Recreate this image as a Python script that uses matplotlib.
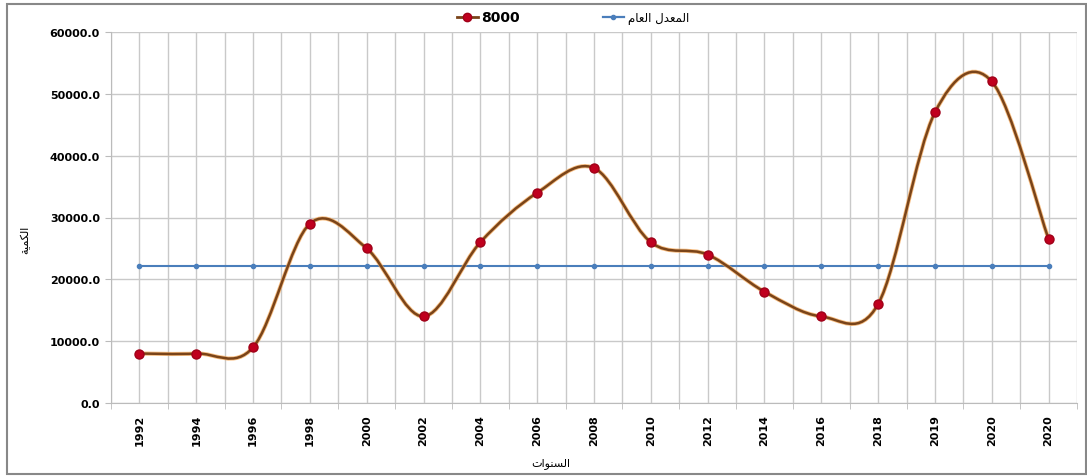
import matplotlib
matplotlib.use('Agg')
from matplotlib import pyplot as plt
from matplotlib.path import Path
from matplotlib.patches import PathPatch, Rectangle
from matplotlib.lines import Line2D
import numpy as np

years = ['1992', '1994', '1996', '1998', '2000', '2002', '2004', '2006', '2008',
         '2010', '2012', '2014', '2016', '2018', '2019', '2020', '2020']
values = [8000, 8000, 9000, 29000, 25000, 14000, 26000, 34000, 38000,
          26000, 24000, 18000, 14000, 16000, 47000, 52000, 26500]
average = [22200] * len(years)

# arabic text in visual order (presentation forms, matplotlib does no shaping)
lbl_avg = '\uFEE1\uFE8E\uFECC\uFEDF\uFE8D \uFEDD\uFEAA\uFECC\uFEE4\uFEDF\uFE8D'  # المعدل العام
lbl_x = '\uFE95\uFE8D\uFEEE\uFEE8\uFEB4\uFEDF\uFE8D'  # السنوات
lbl_y = '\uFE94\uFEF4\uFEE4\uFEDC\uFEDF\uFE8D'  # الكمية
lbl_series = '8000'

plt.rcParams['font.family'] = ['DejaVu Sans']

W, H = 1087, 477
fig = plt.figure(figsize=(W/100, H/100), dpi=100, facecolor='white')
ax = fig.add_axes([111/W, 1-404/H, (1077-111)/W, (404-33)/H])

x = np.arange(len(years))
y = np.array(values, dtype=float)

# excel-like smoothed line: bezier segments with catmull-rom control points
verts = [(x[0], y[0])]
codes = [Path.MOVETO]
n = len(x)
for i in range(n - 1):
    p0 = np.array([x[max(i-1, 0)], y[max(i-1, 0)]])
    p1 = np.array([x[i], y[i]])
    p2 = np.array([x[i+1], y[i+1]])
    p3 = np.array([x[min(i+2, n-1)], y[min(i+2, n-1)]])
    c1 = p1 + (p2 - p0) / 6.0
    c2 = p2 - (p3 - p1) / 6.0
    verts += [tuple(c1), tuple(c2), tuple(p2)]
    codes += [Path.CURVE4] * 3
path = Path(verts, codes)

ax.add_patch(PathPatch(path, facecolor='none', edgecolor='#F4A24C', lw=3.0, zorder=3, alpha=0.7))
ax.add_patch(PathPatch(path, facecolor='none', edgecolor='#7A4419', lw=1.8, zorder=4))
ax.plot(x, y, linestyle='', marker='o', markersize=6.5, markerfacecolor='#C0001E',
        markeredgecolor='#A00018', zorder=5)

ax.plot(x, average, color='#4A7EBB', lw=1.5, marker='o', markersize=3,
        markerfacecolor='#4A7EBB', markeredgecolor='#4A7EBB', zorder=2)

ax.set_xlim(-0.5, n - 0.5)
ax.set_ylim(0, 60000)
ax.set_yticks(np.arange(0, 60001, 10000))
ax.set_yticklabels(['%.1f' % v for v in np.arange(0, 60001, 10000)],
                   fontsize=8, fontweight='bold')
ax.set_xticks(x)
ax.set_xticklabels(years, rotation=90, fontsize=8, fontweight='bold')
ax.set_xticks(np.arange(-0.5, n, 1.0), minor=True)

ax.grid(which='major', axis='both', color='#C9C9C9', lw=1.0, zorder=0)
ax.grid(which='minor', axis='x', color='#C9C9C9', lw=1.0, zorder=0)
ax.tick_params(axis='x', which='major', length=0, pad=8)
ax.tick_params(axis='x', which='minor', length=4, color='#BBBBBB')
ax.tick_params(axis='y', length=4, color='#BBBBBB', pad=4)
for s in ['top', 'right']:
    ax.spines[s].set_visible(False)
for s in ['left', 'bottom']:
    ax.spines[s].set_color('#BBBBBB')

fig.text(551/W, 1-464/H, lbl_x, fontsize=8, ha='center', va='center')
fig.text(25/W, 1-240/H, lbl_y, fontsize=8, ha='center', va='center', rotation=90)

h1 = Line2D([], [], color='#7A4419', lw=2.0, marker='o', markersize=6,
            markerfacecolor='#C0001E', markeredgecolor='#A00018')
h2 = Line2D([], [], color='#4A7EBB', lw=1.6, marker='o', markersize=3)
leg = fig.legend([h1, h2], [lbl_series, lbl_avg], loc='center', bbox_to_anchor=(0.527, 0.962),
                 ncol=2, frameon=False, fontsize=8.5, columnspacing=7, handlelength=1.8,
                 handletextpad=0.3)
leg.get_texts()[0].set_fontweight('bold')
leg.get_texts()[0].set_fontsize(10)

fig.patches.append(Rectangle((7/W, 1-475/H), (1086-7)/W, (475-5)/H, transform=fig.transFigure,
                             facecolor='none', edgecolor='#888888', lw=1.5))

fig.savefig('out.png', dpi=100)
